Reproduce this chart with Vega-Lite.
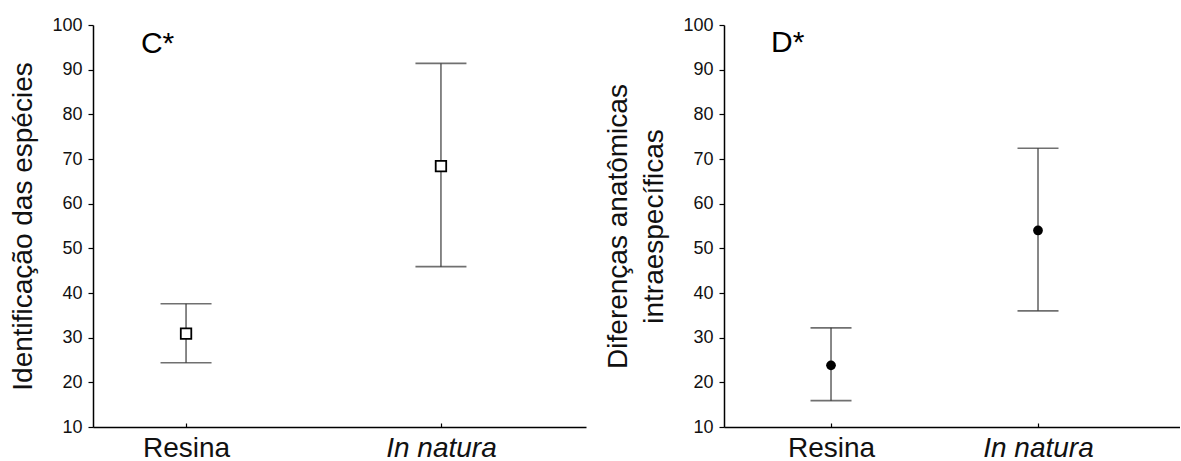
{
  "$schema": "https://vega.github.io/schema/vega-lite/v6.json",
  "background": "white",
  "padding": {"left": 9, "top": 16, "right": 0, "bottom": 0},
  "spacing": 18,
  "config": {
    "view": {"stroke": null},
    "font": "Liberation Sans",
    "axis": {
      "domainColor": "black",
      "domainWidth": 1.5,
      "tickColor": "black",
      "tickWidth": 1.2,
      "grid": false,
      "labelFont": "Liberation Sans",
      "titleFont": "Liberation Sans",
      "labelColor": "#111",
      "titleColor": "#111",
      "titleFontWeight": "normal"
    }
  },
  "datasets": {
    "stats": [
      {"panel": "C", "group": "Resina", "pos": 1, "mean": 30.9, "lo": 24.4, "hi": 37.6},
      {"panel": "C", "group": "In natura", "pos": 2, "mean": 68.4, "lo": 45.9, "hi": 91.4},
      {"panel": "D", "group": "Resina", "pos": 1, "mean": 23.8, "lo": 15.9, "hi": 32.2},
      {"panel": "D", "group": "In natura", "pos": 2, "mean": 54.0, "lo": 36.0, "hi": 72.4}
    ],
    "labels": [
      {"panel": "C", "text": "C*", "pos": 0.823, "val": 93.7},
      {"panel": "D", "text": "D*", "pos": 0.71, "val": 93.95}
    ]
  },
  "hconcat": [
    {
      "width": 493,
      "height": 402,
      "data": {"name": "stats"},
      "transform": [{"filter": "datum.panel == 'C'"}],
      "encoding": {
        "x": {
          "field": "pos", "type": "quantitative",
          "scale": {"domain": [0.635, 2.569], "nice": false, "zero": false},
          "axis": {
            "title": null, "values": [1, 2],
            "labelExpr": "datum.value == 1 ? 'Resina' : 'In natura'",
            "labelFontSize": 28, "labelPadding": 11, "tickSize": -4, "labelFlush": false,
            "labelFontStyle": {"condition": {"test": "datum.value == 2", "value": "italic"}, "value": "normal"}
          }
        },
        "y": {
          "field": "mean", "type": "quantitative",
          "scale": {"domain": [10, 100], "nice": false, "zero": false},
          "axis": {
            "title": "Identificação das espécies", "titleFontSize": 28, "titlePadding": 14,
            "values": [10, 20, 30, 40, 50, 60, 70, 80, 90, 100],
            "labelFontSize": 18, "tickSize": 5, "labelPadding": 6
          }
        }
      },
      "layer": [
        {
          "mark": {"type": "rule", "color": "#555", "strokeWidth": 1.4},
          "encoding": {"y": {"field": "lo", "type": "quantitative"}, "y2": {"field": "hi"}}
        },
        {
          "mark": {"type": "tick", "orient": "horizontal", "color": "#333", "size": 51, "thickness": 1.6},
          "encoding": {"y": {"field": "lo", "type": "quantitative"}}
        },
        {
          "mark": {"type": "tick", "orient": "horizontal", "color": "#333", "size": 51, "thickness": 1.6},
          "encoding": {"y": {"field": "hi", "type": "quantitative"}}
        },
        {
          "mark": {"type": "point", "shape": "square", "filled": true, "fill": "white", "stroke": "black", "strokeWidth": 1.8, "size": 110, "opacity": 1}
        },
        {
          "data": {"name": "labels"},
          "transform": [{"filter": "datum.panel == 'C'"}],
          "mark": {"type": "text", "align": "left", "baseline": "alphabetic", "fontSize": 30, "color": "black"},
          "encoding": {
            "x": {"field": "pos", "type": "quantitative"},
            "y": {"field": "val", "type": "quantitative"},
            "text": {"field": "text"}
          }
        }
      ]
    },
    {
      "width": 456,
      "height": 402,
      "data": {"name": "stats"},
      "transform": [{"filter": "datum.panel == 'D'"}],
      "encoding": {
        "x": {
          "field": "pos", "type": "quantitative",
          "scale": {"domain": [0.483, 2.686], "nice": false, "zero": false},
          "axis": {
            "title": null, "values": [1, 2],
            "labelExpr": "datum.value == 1 ? 'Resina' : 'In natura'",
            "labelFontSize": 28, "labelPadding": 11, "tickSize": -4, "labelFlush": false,
            "labelFontStyle": {"condition": {"test": "datum.value == 2", "value": "italic"}, "value": "normal"}
          }
        },
        "y": {
          "field": "mean", "type": "quantitative",
          "scale": {"domain": [10, 100], "nice": false, "zero": false},
          "axis": {
            "title": ["Diferenças anatômicas", "intraespecíficas"], "titleFontSize": 28, "titleLineHeight": 36, "titlePadding": 14,
            "values": [10, 20, 30, 40, 50, 60, 70, 80, 90, 100],
            "labelFontSize": 18, "tickSize": 5, "labelPadding": 6
          }
        }
      },
      "layer": [
        {
          "mark": {"type": "rule", "color": "#555", "strokeWidth": 1.4},
          "encoding": {"y": {"field": "lo", "type": "quantitative"}, "y2": {"field": "hi"}}
        },
        {
          "mark": {"type": "tick", "orient": "horizontal", "color": "#333", "size": 41, "thickness": 1.6},
          "encoding": {"y": {"field": "lo", "type": "quantitative"}}
        },
        {
          "mark": {"type": "tick", "orient": "horizontal", "color": "#333", "size": 41, "thickness": 1.6},
          "encoding": {"y": {"field": "hi", "type": "quantitative"}}
        },
        {
          "mark": {"type": "point", "shape": "circle", "filled": true, "color": "black", "size": 95, "opacity": 1}
        },
        {
          "data": {"name": "labels"},
          "transform": [{"filter": "datum.panel == 'D'"}],
          "mark": {"type": "text", "align": "left", "baseline": "alphabetic", "fontSize": 30, "color": "black"},
          "encoding": {
            "x": {"field": "pos", "type": "quantitative"},
            "y": {"field": "val", "type": "quantitative"},
            "text": {"field": "text"}
          }
        }
      ]
    }
  ]
}
